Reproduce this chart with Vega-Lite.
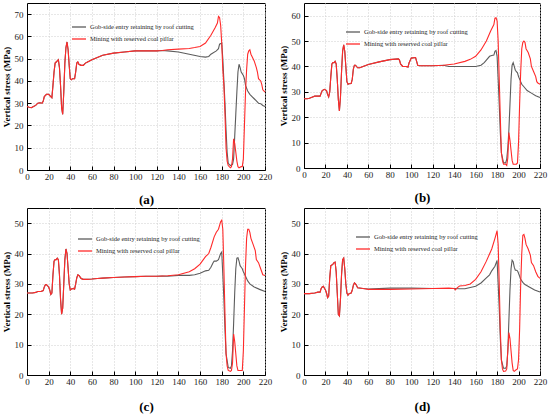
{
  "$schema": "https://vega.github.io/schema/vega-lite/v6.json",
  "background": "white",
  "padding": {"left": 1, "top": 2, "right": 0, "bottom": 0},
  "datasets": {
    "a": [
      {"series":"gob","x":0,"y":28.5},{"series":"gob","x":2,"y":28.2},{"series":"gob","x":4,"y":28},{"series":"gob","x":6,"y":28.5},{"series":"gob","x":8,"y":29},{"series":"gob","x":10,"y":30},{"series":"gob","x":12,"y":30.2},{"series":"gob","x":14,"y":30},{"series":"gob","x":15,"y":31},{"series":"gob","x":16,"y":33},{"series":"gob","x":18,"y":34},{"series":"gob","x":20,"y":34},{"series":"gob","x":22,"y":33},{"series":"gob","x":23,"y":32.5},{"series":"gob","x":24,"y":38},{"series":"gob","x":25,"y":44},{"series":"gob","x":26,"y":48},{"series":"gob","x":27,"y":48.5},{"series":"gob","x":28,"y":49},{"series":"gob","x":29,"y":49.5},{"series":"gob","x":30,"y":46},{"series":"gob","x":31,"y":38},{"series":"gob","x":32,"y":28},{"series":"gob","x":33,"y":25},{"series":"gob","x":34,"y":35},{"series":"gob","x":35,"y":48},{"series":"gob","x":36,"y":55},{"series":"gob","x":37,"y":57.5},{"series":"gob","x":38,"y":54},{"series":"gob","x":39,"y":47},{"series":"gob","x":40,"y":41},{"series":"gob","x":41,"y":40.5},{"series":"gob","x":42,"y":41},{"series":"gob","x":44,"y":41},{"series":"gob","x":45,"y":44},{"series":"gob","x":46,"y":48},{"series":"gob","x":47,"y":48.5},{"series":"gob","x":48,"y":47.5},{"series":"gob","x":50,"y":47},{"series":"gob","x":52,"y":47},{"series":"gob","x":54,"y":48},{"series":"gob","x":56,"y":48.5},{"series":"gob","x":60,"y":49.5},{"series":"gob","x":65,"y":50.5},{"series":"gob","x":70,"y":51.5},{"series":"gob","x":80,"y":52.5},{"series":"gob","x":90,"y":53},{"series":"gob","x":100,"y":53.5},{"series":"gob","x":110,"y":53.5},{"series":"gob","x":120,"y":53.5},{"series":"gob","x":125,"y":53.7},
      {"series":"gob","x":130,"y":53.5},{"series":"gob","x":140,"y":53},{"series":"gob","x":150,"y":52},{"series":"gob","x":160,"y":51},{"series":"gob","x":165,"y":50.7},{"series":"gob","x":168,"y":51},{"series":"gob","x":170,"y":52},{"series":"gob","x":175,"y":53.5},{"series":"gob","x":177,"y":54.5},{"series":"gob","x":178,"y":56.5},{"series":"gob","x":180,"y":57},{"series":"gob","x":181,"y":50},{"series":"gob","x":182,"y":40},{"series":"gob","x":183,"y":30},{"series":"gob","x":184,"y":18},{"series":"gob","x":185,"y":8},{"series":"gob","x":186,"y":3},{"series":"gob","x":188,"y":2},{"series":"gob","x":190,"y":2.5},{"series":"gob","x":191,"y":5},{"series":"gob","x":192,"y":15},{"series":"gob","x":193,"y":25},{"series":"gob","x":194,"y":35},{"series":"gob","x":195,"y":44},{"series":"gob","x":196,"y":47.5},{"series":"gob","x":197,"y":46},{"series":"gob","x":198,"y":44},{"series":"gob","x":200,"y":42.5},{"series":"gob","x":201,"y":41},{"series":"gob","x":202,"y":38},{"series":"gob","x":204,"y":35.5},{"series":"gob","x":206,"y":34},{"series":"gob","x":208,"y":33},{"series":"gob","x":210,"y":32},{"series":"gob","x":212,"y":31},{"series":"gob","x":214,"y":30},{"series":"gob","x":216,"y":29.8},{"series":"gob","x":218,"y":29},{"series":"gob","x":220,"y":28.5},
      {"series":"pillar","x":0,"y":28.5},{"series":"pillar","x":2,"y":28.2},{"series":"pillar","x":4,"y":28},{"series":"pillar","x":6,"y":28.5},{"series":"pillar","x":8,"y":29},{"series":"pillar","x":10,"y":30},{"series":"pillar","x":12,"y":30.2},{"series":"pillar","x":14,"y":30},{"series":"pillar","x":15,"y":31},{"series":"pillar","x":16,"y":33},{"series":"pillar","x":18,"y":34},{"series":"pillar","x":20,"y":34},{"series":"pillar","x":22,"y":33},{"series":"pillar","x":23,"y":32.5},{"series":"pillar","x":24,"y":38},{"series":"pillar","x":25,"y":44},{"series":"pillar","x":26,"y":48},{"series":"pillar","x":27,"y":48.5},{"series":"pillar","x":28,"y":49},{"series":"pillar","x":29,"y":49.5},{"series":"pillar","x":30,"y":46},{"series":"pillar","x":31,"y":38},{"series":"pillar","x":32,"y":28},{"series":"pillar","x":33,"y":25},{"series":"pillar","x":34,"y":35},{"series":"pillar","x":35,"y":48},{"series":"pillar","x":36,"y":55},{"series":"pillar","x":37,"y":57.5},{"series":"pillar","x":38,"y":54},{"series":"pillar","x":39,"y":47},{"series":"pillar","x":40,"y":41},{"series":"pillar","x":41,"y":40.5},{"series":"pillar","x":42,"y":41},{"series":"pillar","x":44,"y":41},{"series":"pillar","x":45,"y":44},{"series":"pillar","x":46,"y":48},{"series":"pillar","x":47,"y":48.5},{"series":"pillar","x":48,"y":47.5},{"series":"pillar","x":50,"y":47},{"series":"pillar","x":52,"y":47},{"series":"pillar","x":54,"y":48},{"series":"pillar","x":56,"y":48.5},{"series":"pillar","x":60,"y":49.5},{"series":"pillar","x":65,"y":50.5},{"series":"pillar","x":70,"y":51.5},{"series":"pillar","x":80,"y":52.5},{"series":"pillar","x":90,"y":53},{"series":"pillar","x":100,"y":53.5},{"series":"pillar","x":110,"y":53.5},{"series":"pillar","x":120,"y":53.5},{"series":"pillar","x":125,"y":53.7},
      {"series":"pillar","x":130,"y":54},{"series":"pillar","x":140,"y":54.3},{"series":"pillar","x":150,"y":54.6},{"series":"pillar","x":155,"y":55},{"series":"pillar","x":160,"y":55.5},{"series":"pillar","x":165,"y":57},{"series":"pillar","x":170,"y":60.5},{"series":"pillar","x":174,"y":64},{"series":"pillar","x":176,"y":66},{"series":"pillar","x":177,"y":69},{"series":"pillar","x":178,"y":68.5},{"series":"pillar","x":179,"y":65},{"series":"pillar","x":180,"y":57},{"series":"pillar","x":181,"y":45},{"series":"pillar","x":182,"y":38},{"series":"pillar","x":183,"y":25},{"series":"pillar","x":184,"y":10},{"series":"pillar","x":185,"y":4},{"series":"pillar","x":186,"y":2},{"series":"pillar","x":188,"y":1},{"series":"pillar","x":189,"y":1.5},{"series":"pillar","x":190,"y":5},{"series":"pillar","x":191,"y":14},{"series":"pillar","x":192,"y":12},{"series":"pillar","x":193,"y":8},{"series":"pillar","x":194,"y":4},{"series":"pillar","x":195,"y":1.5},{"series":"pillar","x":196,"y":1},{"series":"pillar","x":198,"y":1.5},{"series":"pillar","x":199,"y":1.5},{"series":"pillar","x":200,"y":5},{"series":"pillar","x":201,"y":20},{"series":"pillar","x":202,"y":35},{"series":"pillar","x":203,"y":45},{"series":"pillar","x":204,"y":52},{"series":"pillar","x":205,"y":53.5},{"series":"pillar","x":206,"y":54},{"series":"pillar","x":207,"y":52},{"series":"pillar","x":208,"y":51},{"series":"pillar","x":210,"y":49},{"series":"pillar","x":212,"y":46},{"series":"pillar","x":213,"y":44},{"series":"pillar","x":214,"y":41},{"series":"pillar","x":216,"y":40},{"series":"pillar","x":217,"y":38.5},{"series":"pillar","x":218,"y":36},{"series":"pillar","x":220,"y":35}
    ],
    "b": [
      {"series":"gob","x":0,"y":27.3},{"series":"gob","x":3,"y":27.3},{"series":"gob","x":5,"y":27.5},{"series":"gob","x":8,"y":28},{"series":"gob","x":10,"y":28.3},{"series":"gob","x":12,"y":28.3},{"series":"gob","x":15,"y":28.3},{"series":"gob","x":16,"y":29.5},{"series":"gob","x":17,"y":30.5},{"series":"gob","x":19,"y":31},{"series":"gob","x":21,"y":30.5},{"series":"gob","x":22,"y":29},{"series":"gob","x":23,"y":28},{"series":"gob","x":24,"y":30},{"series":"gob","x":25,"y":36},{"series":"gob","x":26,"y":41},{"series":"gob","x":27,"y":41.5},{"series":"gob","x":28,"y":41.5},{"series":"gob","x":29,"y":42},{"series":"gob","x":30,"y":41},{"series":"gob","x":31,"y":35},{"series":"gob","x":32,"y":27},{"series":"gob","x":33,"y":22.5},{"series":"gob","x":34,"y":28},{"series":"gob","x":35,"y":38},{"series":"gob","x":36,"y":46},{"series":"gob","x":37,"y":48.5},{"series":"gob","x":38,"y":46},{"series":"gob","x":39,"y":40},{"series":"gob","x":40,"y":34},{"series":"gob","x":41,"y":33},{"series":"gob","x":42,"y":33.2},{"series":"gob","x":44,"y":33.3},{"series":"gob","x":45,"y":35},{"series":"gob","x":46,"y":39},{"series":"gob","x":47,"y":40.5},{"series":"gob","x":48,"y":40.5},{"series":"gob","x":50,"y":39.5},{"series":"gob","x":52,"y":39.5},{"series":"gob","x":55,"y":40},{"series":"gob","x":60,"y":40.8},{"series":"gob","x":70,"y":41.8},{"series":"gob","x":80,"y":42.7},{"series":"gob","x":88,"y":43},{"series":"gob","x":89,"y":42.5},{"series":"gob","x":90,"y":41},{"series":"gob","x":92,"y":40},{"series":"gob","x":95,"y":40},{"series":"gob","x":97,"y":39.8},{"series":"gob","x":98,"y":41.5},{"series":"gob","x":100,"y":43.3},{"series":"gob","x":104,"y":43.5},{"series":"gob","x":105,"y":42},{"series":"gob","x":106,"y":40.5},{"series":"gob","x":108,"y":40.3},{"series":"gob","x":110,"y":40.3},{"series":"gob","x":120,"y":40.3},{"series":"gob","x":130,"y":40.5},
      {"series":"gob","x":135,"y":40},{"series":"gob","x":140,"y":40},{"series":"gob","x":150,"y":40},{"series":"gob","x":160,"y":40},{"series":"gob","x":165,"y":40.5},{"series":"gob","x":168,"y":41.5},{"series":"gob","x":170,"y":42.5},{"series":"gob","x":173,"y":44},{"series":"gob","x":175,"y":44.3},{"series":"gob","x":177,"y":44.5},{"series":"gob","x":178,"y":46},{"series":"gob","x":179,"y":46.3},{"series":"gob","x":180,"y":44},{"series":"gob","x":181,"y":35},{"series":"gob","x":182,"y":25},{"series":"gob","x":183,"y":14},{"series":"gob","x":184,"y":6},{"series":"gob","x":186,"y":2},{"series":"gob","x":188,"y":2},{"series":"gob","x":189,"y":3.5},{"series":"gob","x":190,"y":8},{"series":"gob","x":191,"y":15},{"series":"gob","x":192,"y":25},{"series":"gob","x":193,"y":35},{"series":"gob","x":194,"y":40.5},{"series":"gob","x":195,"y":41.5},{"series":"gob","x":196,"y":40},{"series":"gob","x":197,"y":38.5},{"series":"gob","x":198,"y":38},{"series":"gob","x":199,"y":37.5},{"series":"gob","x":200,"y":36},{"series":"gob","x":201,"y":35},{"series":"gob","x":203,"y":33},{"series":"gob","x":205,"y":32},{"series":"gob","x":208,"y":30.5},{"series":"gob","x":212,"y":29.5},{"series":"gob","x":216,"y":28.5},{"series":"gob","x":220,"y":27.8},
      {"series":"pillar","x":0,"y":27.3},{"series":"pillar","x":3,"y":27.3},{"series":"pillar","x":5,"y":27.5},{"series":"pillar","x":8,"y":28},{"series":"pillar","x":10,"y":28.3},{"series":"pillar","x":12,"y":28.3},{"series":"pillar","x":15,"y":28.3},{"series":"pillar","x":16,"y":29.5},{"series":"pillar","x":17,"y":30.5},{"series":"pillar","x":19,"y":31},{"series":"pillar","x":21,"y":30.5},{"series":"pillar","x":22,"y":29},{"series":"pillar","x":23,"y":28},{"series":"pillar","x":24,"y":30},{"series":"pillar","x":25,"y":36},{"series":"pillar","x":26,"y":41},{"series":"pillar","x":27,"y":41.5},{"series":"pillar","x":28,"y":41.5},{"series":"pillar","x":29,"y":42},{"series":"pillar","x":30,"y":41},{"series":"pillar","x":31,"y":35},{"series":"pillar","x":32,"y":27},{"series":"pillar","x":33,"y":22.5},{"series":"pillar","x":34,"y":28},{"series":"pillar","x":35,"y":38},{"series":"pillar","x":36,"y":46},{"series":"pillar","x":37,"y":48.5},{"series":"pillar","x":38,"y":46},{"series":"pillar","x":39,"y":40},{"series":"pillar","x":40,"y":34},{"series":"pillar","x":41,"y":33},{"series":"pillar","x":42,"y":33.2},{"series":"pillar","x":44,"y":33.3},{"series":"pillar","x":45,"y":35},{"series":"pillar","x":46,"y":39},{"series":"pillar","x":47,"y":40.5},{"series":"pillar","x":48,"y":40.5},{"series":"pillar","x":50,"y":39.5},{"series":"pillar","x":52,"y":39.5},{"series":"pillar","x":55,"y":40},{"series":"pillar","x":60,"y":40.8},{"series":"pillar","x":70,"y":41.8},{"series":"pillar","x":80,"y":42.7},{"series":"pillar","x":88,"y":43},{"series":"pillar","x":89,"y":42.5},{"series":"pillar","x":90,"y":41},{"series":"pillar","x":92,"y":40},{"series":"pillar","x":95,"y":40},{"series":"pillar","x":97,"y":39.8},{"series":"pillar","x":98,"y":41.5},{"series":"pillar","x":100,"y":43.3},{"series":"pillar","x":104,"y":43.5},{"series":"pillar","x":105,"y":42},{"series":"pillar","x":106,"y":40.5},{"series":"pillar","x":108,"y":40.3},{"series":"pillar","x":110,"y":40.3},{"series":"pillar","x":120,"y":40.3},{"series":"pillar","x":130,"y":40.5},
      {"series":"pillar","x":140,"y":41},{"series":"pillar","x":150,"y":42},{"series":"pillar","x":155,"y":42.8},{"series":"pillar","x":160,"y":44},{"series":"pillar","x":165,"y":46.5},{"series":"pillar","x":170,"y":50},{"series":"pillar","x":174,"y":54},{"series":"pillar","x":177,"y":56.5},{"series":"pillar","x":178,"y":59},{"series":"pillar","x":179,"y":59.2},{"series":"pillar","x":180,"y":58},{"series":"pillar","x":181,"y":50},{"series":"pillar","x":182,"y":35},{"series":"pillar","x":183,"y":20},{"series":"pillar","x":184,"y":6},{"series":"pillar","x":185,"y":3},{"series":"pillar","x":186,"y":1.5},{"series":"pillar","x":188,"y":1.5},{"series":"pillar","x":189,"y":1},{"series":"pillar","x":190,"y":4},{"series":"pillar","x":191,"y":14},{"series":"pillar","x":192,"y":11},{"series":"pillar","x":193,"y":7},{"series":"pillar","x":194,"y":3},{"series":"pillar","x":195,"y":1.5},{"series":"pillar","x":198,"y":1.5},{"series":"pillar","x":199,"y":2},{"series":"pillar","x":200,"y":10},{"series":"pillar","x":201,"y":25},{"series":"pillar","x":202,"y":38},{"series":"pillar","x":203,"y":47},{"series":"pillar","x":204,"y":49.5},{"series":"pillar","x":205,"y":50},{"series":"pillar","x":206,"y":49.5},{"series":"pillar","x":207,"y":47},{"series":"pillar","x":209,"y":45.5},{"series":"pillar","x":211,"y":43},{"series":"pillar","x":212,"y":40},{"series":"pillar","x":214,"y":38},{"series":"pillar","x":216,"y":36},{"series":"pillar","x":217,"y":34},{"series":"pillar","x":218,"y":33.5},{"series":"pillar","x":220,"y":33}
    ],
    "c": [
      {"series":"gob","x":0,"y":27},{"series":"gob","x":5,"y":27},{"series":"gob","x":8,"y":27.2},{"series":"gob","x":10,"y":27.5},{"series":"gob","x":13,"y":27.5},{"series":"gob","x":15,"y":27.8},{"series":"gob","x":16,"y":29},{"series":"gob","x":17,"y":29.7},{"series":"gob","x":18,"y":29.8},{"series":"gob","x":20,"y":29},{"series":"gob","x":21,"y":28},{"series":"gob","x":22,"y":26.5},{"series":"gob","x":23,"y":27},{"series":"gob","x":24,"y":33},{"series":"gob","x":25,"y":37.5},{"series":"gob","x":26,"y":38},{"series":"gob","x":27,"y":38},{"series":"gob","x":28,"y":38.5},{"series":"gob","x":29,"y":38},{"series":"gob","x":30,"y":33},{"series":"gob","x":31,"y":25},{"series":"gob","x":32,"y":20},{"series":"gob","x":33,"y":22},{"series":"gob","x":34,"y":30},{"series":"gob","x":35,"y":38},{"series":"gob","x":36,"y":41.5},{"series":"gob","x":37,"y":40},{"series":"gob","x":38,"y":35},{"series":"gob","x":39,"y":30},{"series":"gob","x":40,"y":28},{"series":"gob","x":41,"y":28.3},{"series":"gob","x":43,"y":28.5},{"series":"gob","x":44,"y":28.3},{"series":"gob","x":45,"y":30},{"series":"gob","x":46,"y":32},{"series":"gob","x":47,"y":33},{"series":"gob","x":48,"y":32.8},{"series":"gob","x":50,"y":31.8},{"series":"gob","x":52,"y":31.5},{"series":"gob","x":55,"y":31.5},{"series":"gob","x":60,"y":31.6},{"series":"gob","x":65,"y":31.8},{"series":"gob","x":70,"y":31.9},{"series":"gob","x":80,"y":32.1},{"series":"gob","x":90,"y":32.3},{"series":"gob","x":100,"y":32.4},{"series":"gob","x":110,"y":32.5},{"series":"gob","x":120,"y":32.5},{"series":"gob","x":125,"y":32.6},
      {"series":"gob","x":130,"y":32.5},{"series":"gob","x":140,"y":32.8},{"series":"gob","x":150,"y":32.8},{"series":"gob","x":155,"y":33},{"series":"gob","x":160,"y":33.5},{"series":"gob","x":165,"y":34.3},{"series":"gob","x":168,"y":34.5},{"series":"gob","x":170,"y":35.5},{"series":"gob","x":172,"y":37},{"series":"gob","x":173,"y":37.5},{"series":"gob","x":175,"y":37.5},{"series":"gob","x":177,"y":38},{"series":"gob","x":179,"y":40},{"series":"gob","x":180,"y":40.5},{"series":"gob","x":181,"y":33},{"series":"gob","x":182,"y":25},{"series":"gob","x":183,"y":15},{"series":"gob","x":184,"y":7},{"series":"gob","x":186,"y":2.5},{"series":"gob","x":188,"y":2.2},{"series":"gob","x":189,"y":3},{"series":"gob","x":190,"y":8},{"series":"gob","x":191,"y":17},{"series":"gob","x":192,"y":27},{"series":"gob","x":193,"y":35},{"series":"gob","x":194,"y":38.5},{"series":"gob","x":195,"y":38.6},{"series":"gob","x":196,"y":37.5},{"series":"gob","x":197,"y":36},{"series":"gob","x":198,"y":35.5},{"series":"gob","x":199,"y":35},{"series":"gob","x":200,"y":34},{"series":"gob","x":202,"y":32.5},{"series":"gob","x":204,"y":31},{"series":"gob","x":206,"y":30},{"series":"gob","x":210,"y":29},{"series":"gob","x":215,"y":28.2},{"series":"gob","x":220,"y":27.5},
      {"series":"pillar","x":0,"y":27},{"series":"pillar","x":5,"y":27},{"series":"pillar","x":8,"y":27.2},{"series":"pillar","x":10,"y":27.5},{"series":"pillar","x":13,"y":27.5},{"series":"pillar","x":15,"y":27.8},{"series":"pillar","x":16,"y":29},{"series":"pillar","x":17,"y":29.7},{"series":"pillar","x":18,"y":29.8},{"series":"pillar","x":20,"y":29},{"series":"pillar","x":21,"y":28},{"series":"pillar","x":22,"y":26.5},{"series":"pillar","x":23,"y":27},{"series":"pillar","x":24,"y":33},{"series":"pillar","x":25,"y":37.5},{"series":"pillar","x":26,"y":38},{"series":"pillar","x":27,"y":38},{"series":"pillar","x":28,"y":38.5},{"series":"pillar","x":29,"y":38},{"series":"pillar","x":30,"y":33},{"series":"pillar","x":31,"y":25},{"series":"pillar","x":32,"y":20},{"series":"pillar","x":33,"y":22},{"series":"pillar","x":34,"y":30},{"series":"pillar","x":35,"y":38},{"series":"pillar","x":36,"y":41.5},{"series":"pillar","x":37,"y":40},{"series":"pillar","x":38,"y":35},{"series":"pillar","x":39,"y":30},{"series":"pillar","x":40,"y":28},{"series":"pillar","x":41,"y":28.3},{"series":"pillar","x":43,"y":28.5},{"series":"pillar","x":44,"y":28.3},{"series":"pillar","x":45,"y":30},{"series":"pillar","x":46,"y":32},{"series":"pillar","x":47,"y":33},{"series":"pillar","x":48,"y":32.8},{"series":"pillar","x":50,"y":31.8},{"series":"pillar","x":52,"y":31.5},{"series":"pillar","x":55,"y":31.5},{"series":"pillar","x":60,"y":31.6},{"series":"pillar","x":65,"y":31.8},{"series":"pillar","x":70,"y":31.9},{"series":"pillar","x":80,"y":32.1},{"series":"pillar","x":90,"y":32.3},{"series":"pillar","x":100,"y":32.4},{"series":"pillar","x":110,"y":32.5},{"series":"pillar","x":120,"y":32.5},{"series":"pillar","x":125,"y":32.6},
      {"series":"pillar","x":130,"y":32.7},{"series":"pillar","x":140,"y":33},{"series":"pillar","x":145,"y":33.5},{"series":"pillar","x":150,"y":34},{"series":"pillar","x":155,"y":35},{"series":"pillar","x":160,"y":36.5},{"series":"pillar","x":165,"y":39},{"series":"pillar","x":168,"y":40},{"series":"pillar","x":170,"y":42},{"series":"pillar","x":173,"y":45.5},{"series":"pillar","x":175,"y":47},{"series":"pillar","x":177,"y":48},{"series":"pillar","x":179,"y":50.5},{"series":"pillar","x":180,"y":51},{"series":"pillar","x":181,"y":48},{"series":"pillar","x":182,"y":35},{"series":"pillar","x":183,"y":20},{"series":"pillar","x":184,"y":7},{"series":"pillar","x":185,"y":3},{"series":"pillar","x":186,"y":1.5},{"series":"pillar","x":188,"y":1.2},{"series":"pillar","x":189,"y":1.5},{"series":"pillar","x":190,"y":4},{"series":"pillar","x":191,"y":13.5},{"series":"pillar","x":192,"y":11},{"series":"pillar","x":193,"y":7},{"series":"pillar","x":194,"y":3},{"series":"pillar","x":195,"y":1.5},{"series":"pillar","x":198,"y":1.5},{"series":"pillar","x":199,"y":1.5},{"series":"pillar","x":200,"y":8},{"series":"pillar","x":201,"y":22},{"series":"pillar","x":202,"y":36},{"series":"pillar","x":203,"y":45},{"series":"pillar","x":204,"y":48},{"series":"pillar","x":205,"y":48},{"series":"pillar","x":206,"y":47},{"series":"pillar","x":207,"y":45},{"series":"pillar","x":209,"y":43},{"series":"pillar","x":211,"y":41},{"series":"pillar","x":212,"y":38},{"series":"pillar","x":214,"y":37},{"series":"pillar","x":216,"y":35},{"series":"pillar","x":218,"y":33},{"series":"pillar","x":220,"y":32.8}
    ],
    "d": [
      {"series":"gob","x":0,"y":26.8},{"series":"gob","x":5,"y":26.8},{"series":"gob","x":10,"y":27},{"series":"gob","x":13,"y":27.3},{"series":"gob","x":15,"y":27.3},{"series":"gob","x":16,"y":28.5},{"series":"gob","x":17,"y":29},{"series":"gob","x":18,"y":29.2},{"series":"gob","x":20,"y":28},{"series":"gob","x":21,"y":27},{"series":"gob","x":22,"y":25.5},{"series":"gob","x":23,"y":26},{"series":"gob","x":24,"y":32},{"series":"gob","x":25,"y":36},{"series":"gob","x":26,"y":36.2},{"series":"gob","x":27,"y":36.5},{"series":"gob","x":28,"y":37},{"series":"gob","x":29,"y":37.2},{"series":"gob","x":30,"y":34},{"series":"gob","x":31,"y":27},{"series":"gob","x":32,"y":20},{"series":"gob","x":33,"y":19.5},{"series":"gob","x":34,"y":25},{"series":"gob","x":35,"y":33},{"series":"gob","x":36,"y":38},{"series":"gob","x":37,"y":38.5},{"series":"gob","x":38,"y":35},{"series":"gob","x":39,"y":30},{"series":"gob","x":40,"y":27},{"series":"gob","x":41,"y":26.3},{"series":"gob","x":42,"y":26.8},{"series":"gob","x":44,"y":27},{"series":"gob","x":45,"y":28},{"series":"gob","x":46,"y":29.5},{"series":"gob","x":47,"y":30.3},{"series":"gob","x":48,"y":30},{"series":"gob","x":49,"y":29.5},{"series":"gob","x":50,"y":28.7},{"series":"gob","x":55,"y":28.5},{"series":"gob","x":60,"y":28.3},
      {"series":"gob","x":80,"y":28.6},{"series":"gob","x":100,"y":28.6},{"series":"gob","x":120,"y":28.5},{"series":"gob","x":140,"y":28.5},{"series":"gob","x":145,"y":28.4},{"series":"gob","x":150,"y":28.4},{"series":"gob","x":155,"y":28.8},{"series":"gob","x":160,"y":29.2},{"series":"gob","x":165,"y":30.3},{"series":"gob","x":170,"y":32},{"series":"gob","x":173,"y":33},{"series":"gob","x":175,"y":34.3},{"series":"gob","x":178,"y":35.8},{"series":"gob","x":180,"y":37.7},{"series":"gob","x":181,"y":30},{"series":"gob","x":182,"y":22},{"series":"gob","x":183,"y":12},{"series":"gob","x":184,"y":5},{"series":"gob","x":186,"y":2.2},{"series":"gob","x":188,"y":2.2},{"series":"gob","x":189,"y":3},{"series":"gob","x":190,"y":8},{"series":"gob","x":191,"y":18},{"series":"gob","x":192,"y":28},{"series":"gob","x":193,"y":35},{"series":"gob","x":194,"y":37.8},{"series":"gob","x":195,"y":37.3},{"series":"gob","x":196,"y":35.5},{"series":"gob","x":197,"y":34.5},{"series":"gob","x":198,"y":34.5},{"series":"gob","x":199,"y":34.3},{"series":"gob","x":200,"y":33.5},{"series":"gob","x":202,"y":31.5},{"series":"gob","x":204,"y":30.5},{"series":"gob","x":206,"y":29.8},{"series":"gob","x":210,"y":29},{"series":"gob","x":215,"y":28},{"series":"gob","x":220,"y":27.3},
      {"series":"pillar","x":0,"y":26.8},{"series":"pillar","x":5,"y":26.8},{"series":"pillar","x":10,"y":27},{"series":"pillar","x":13,"y":27.3},{"series":"pillar","x":15,"y":27.3},{"series":"pillar","x":16,"y":28.5},{"series":"pillar","x":17,"y":29},{"series":"pillar","x":18,"y":29.2},{"series":"pillar","x":20,"y":28},{"series":"pillar","x":21,"y":27},{"series":"pillar","x":22,"y":25.5},{"series":"pillar","x":23,"y":26},{"series":"pillar","x":24,"y":32},{"series":"pillar","x":25,"y":36},{"series":"pillar","x":26,"y":36.2},{"series":"pillar","x":27,"y":36.5},{"series":"pillar","x":28,"y":37},{"series":"pillar","x":29,"y":37.2},{"series":"pillar","x":30,"y":34},{"series":"pillar","x":31,"y":27},{"series":"pillar","x":32,"y":20},{"series":"pillar","x":33,"y":19.5},{"series":"pillar","x":34,"y":25},{"series":"pillar","x":35,"y":33},{"series":"pillar","x":36,"y":38},{"series":"pillar","x":37,"y":38.5},{"series":"pillar","x":38,"y":35},{"series":"pillar","x":39,"y":30},{"series":"pillar","x":40,"y":27},{"series":"pillar","x":41,"y":26.3},{"series":"pillar","x":42,"y":26.8},{"series":"pillar","x":44,"y":27},{"series":"pillar","x":45,"y":28},{"series":"pillar","x":46,"y":29.5},{"series":"pillar","x":47,"y":30.3},{"series":"pillar","x":48,"y":30},{"series":"pillar","x":49,"y":29.5},{"series":"pillar","x":50,"y":28.7},{"series":"pillar","x":55,"y":28.5},{"series":"pillar","x":60,"y":28.2},
      {"series":"pillar","x":80,"y":28.2},{"series":"pillar","x":100,"y":28.3},{"series":"pillar","x":120,"y":28.5},{"series":"pillar","x":135,"y":28.6},{"series":"pillar","x":140,"y":28.5},{"series":"pillar","x":141,"y":28},{"series":"pillar","x":143,"y":28.8},{"series":"pillar","x":145,"y":29.3},{"series":"pillar","x":150,"y":29.5},{"series":"pillar","x":155,"y":30},{"series":"pillar","x":160,"y":31.5},{"series":"pillar","x":165,"y":34},{"series":"pillar","x":170,"y":37.5},{"series":"pillar","x":175,"y":41.5},{"series":"pillar","x":178,"y":45},{"series":"pillar","x":180,"y":47.5},{"series":"pillar","x":181,"y":43},{"series":"pillar","x":182,"y":30},{"series":"pillar","x":183,"y":15},{"series":"pillar","x":184,"y":5},{"series":"pillar","x":185,"y":2},{"series":"pillar","x":186,"y":1.2},{"series":"pillar","x":188,"y":1.3},{"series":"pillar","x":189,"y":2},{"series":"pillar","x":190,"y":8},{"series":"pillar","x":191,"y":14},{"series":"pillar","x":192,"y":12},{"series":"pillar","x":193,"y":8},{"series":"pillar","x":194,"y":4},{"series":"pillar","x":195,"y":1.5},{"series":"pillar","x":196,"y":1.2},{"series":"pillar","x":198,"y":1.8},{"series":"pillar","x":199,"y":2},{"series":"pillar","x":200,"y":5},{"series":"pillar","x":201,"y":15},{"series":"pillar","x":202,"y":30},{"series":"pillar","x":203,"y":40},{"series":"pillar","x":204,"y":46},{"series":"pillar","x":205,"y":46.3},{"series":"pillar","x":206,"y":45},{"series":"pillar","x":207,"y":43},{"series":"pillar","x":209,"y":41.5},{"series":"pillar","x":211,"y":39.5},{"series":"pillar","x":212,"y":37},{"series":"pillar","x":214,"y":36},{"series":"pillar","x":216,"y":34},{"series":"pillar","x":218,"y":32.5},{"series":"pillar","x":220,"y":31.8}
    ]
  },
  "vconcat": [
    {
      "hconcat": [
        {
          "data": {"name": "a"},
          "width": 238,
          "height": 167,
          "encoding": {
            "x": {"field": "x", "type": "quantitative", "scale": {"domain": [0, 220], "nice": false}, "axis": {"title": "(a)", "values": [0, 20, 40, 60, 80, 100, 120, 140, 160, 180, 200, 220]}},
            "y": {"field": "y", "type": "quantitative", "scale": {"domain": [0, 75], "nice": false}, "axis": {"title": "Vertical stress (MPa)", "values": [0, 10, 20, 30, 40, 50, 60, 70]}},
            "color": {"field": "series", "type": "nominal", "scale": {"domain": ["gob", "pillar"], "range": ["#5c5c5c", "#ff2a2a"]}, "legend": {"legendX": 44, "legendY": 16, "labelExpr": "datum.label === 'gob' ? 'Gob-side entry retaining by roof cutting' : 'Mining with reserved coal pillar'"}}
          },
          "layer": [
            {"transform": [{"filter": "datum.series === 'gob'"}], "mark": {"type": "line", "strokeWidth": 1.1}},
            {"transform": [{"filter": "datum.series === 'pillar'"}], "mark": {"type": "line", "strokeWidth": 1.1}}
          ]
        },
        {
          "data": {"name": "b"},
          "width": 236,
          "height": 165,
          "encoding": {
            "x": {"field": "x", "type": "quantitative", "scale": {"domain": [0, 220], "nice": false}, "axis": {"title": "(b)", "values": [0, 20, 40, 60, 80, 100, 120, 140, 160, 180, 200, 220]}},
            "y": {"field": "y", "type": "quantitative", "scale": {"domain": [0, 65], "nice": false}, "axis": {"title": "Vertical stress (MPa)", "values": [0, 10, 20, 30, 40, 50, 60]}},
            "color": {"field": "series", "type": "nominal", "scale": {"domain": ["gob", "pillar"], "range": ["#5c5c5c", "#ff2a2a"]}, "legend": {"legendX": 41, "legendY": 21, "labelExpr": "datum.label === 'gob' ? 'Gob-side entry retaining by roof cutting' : 'Mining with reserved coal pillar'"}}
          },
          "layer": [
            {"transform": [{"filter": "datum.series === 'gob'"}], "mark": {"type": "line", "strokeWidth": 1.1}},
            {"transform": [{"filter": "datum.series === 'pillar'"}], "mark": {"type": "line", "strokeWidth": 1.1}}
          ]
        }
      ],
      "spacing": 5,
      "resolve": {"scale": {"x": "independent", "y": "independent", "color": "independent"}, "legend": {"color": "independent"}}
    },
    {
      "hconcat": [
        {
          "data": {"name": "c"},
          "width": 238,
          "height": 167,
          "encoding": {
            "x": {"field": "x", "type": "quantitative", "scale": {"domain": [0, 220], "nice": false}, "axis": {"title": "(c)", "titlePadding": 14, "values": [0, 20, 40, 60, 80, 100, 120, 140, 160, 180, 200, 220]}},
            "y": {"field": "y", "type": "quantitative", "scale": {"domain": [0, 55], "nice": false}, "axis": {"title": "Vertical stress (MPa)", "values": [0, 10, 20, 30, 40, 50]}},
            "color": {"field": "series", "type": "nominal", "scale": {"domain": ["gob", "pillar"], "range": ["#5c5c5c", "#ff2a2a"]}, "legend": {"legendX": 50, "legendY": 23, "labelExpr": "datum.label === 'gob' ? 'Gob-side entry retaining by roof cutting' : 'Mining with reserved coal pillar'"}}
          },
          "layer": [
            {"transform": [{"filter": "datum.series === 'gob'"}], "mark": {"type": "line", "strokeWidth": 1.1}},
            {"transform": [{"filter": "datum.series === 'pillar'"}], "mark": {"type": "line", "strokeWidth": 1.1}}
          ]
        },
        {
          "data": {"name": "d"},
          "width": 236,
          "height": 167,
          "encoding": {
            "x": {"field": "x", "type": "quantitative", "scale": {"domain": [0, 220], "nice": false}, "axis": {"title": "(d)", "titlePadding": 14, "values": [0, 20, 40, 60, 80, 100, 120, 140, 160, 180, 200, 220]}},
            "y": {"field": "y", "type": "quantitative", "scale": {"domain": [0, 55], "nice": false}, "axis": {"title": "Vertical stress (MPa)", "values": [0, 10, 20, 30, 40, 50]}},
            "color": {"field": "series", "type": "nominal", "scale": {"domain": ["gob", "pillar"], "range": ["#5c5c5c", "#ff2a2a"]}, "legend": {"legendX": 51, "legendY": 21, "labelExpr": "datum.label === 'gob' ? 'Gob-side entry retaining by roof cutting' : 'Mining with reserved coal pillar'"}}
          },
          "layer": [
            {"transform": [{"filter": "datum.series === 'gob'"}], "mark": {"type": "line", "strokeWidth": 1.1}},
            {"transform": [{"filter": "datum.series === 'pillar'"}], "mark": {"type": "line", "strokeWidth": 1.1}}
          ]
        }
      ],
      "spacing": 5,
      "resolve": {"scale": {"x": "independent", "y": "independent", "color": "independent"}, "legend": {"color": "independent"}}
    }
  ],
  "spacing": 0,
  "resolve": {"scale": {"x": "independent", "y": "independent", "color": "independent"}, "legend": {"color": "independent"}},
  "config": {
    "font": "Liberation Serif",
    "view": {"stroke": "black", "strokeWidth": 1},
    "axis": {
      "domainColor": "black",
      "tickColor": "black",
      "tickSize": -4,
      "labelFont": "Liberation Serif",
      "labelFontSize": 9,
      "labelColor": "#222222",
      "grid": true,
      "gridColor": "#cfcfcf",
      "gridDash": [1, 2],
      "titleFont": "Liberation Serif",
      "titleFontWeight": "bold",
      "titleColor": "black"
    },
    "axisX": {"labelPadding": 6, "labelFlush": false, "titleFontSize": 13, "titlePadding": 12},
    "axisY": {"labelPadding": 8, "titleFontSize": 9, "titlePadding": 3},
    "legend": {
      "orient": "none",
      "title": null,
      "padding": 0,
      "symbolType": "stroke",
      "symbolSize": 196,
      "symbolStrokeWidth": 1.3,
      "labelFont": "Liberation Serif",
      "labelFontSize": 6.5,
      "labelColor": "#222222",
      "labelOffset": 3,
      "rowPadding": -5
    }
  }
}
